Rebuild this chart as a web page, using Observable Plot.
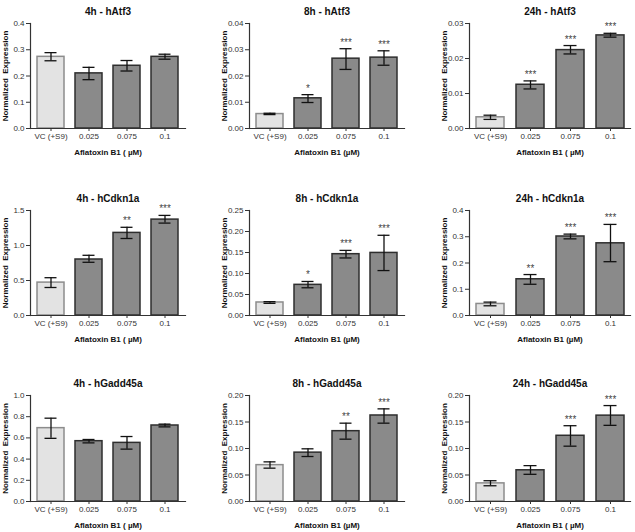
<!DOCTYPE html>
<html><head><meta charset="utf-8">
<script src="https://cdn.jsdelivr.net/npm/d3@7"></script>
<script src="https://cdn.jsdelivr.net/npm/@observablehq/plot@0.6"></script>
<style>
body{margin:0;background:#fff;}
#wrap{position:relative;width:635px;height:532px;overflow:hidden;background:#fff}
#wrap svg{position:absolute;background:transparent}
</style></head><body><div id="wrap"></div>
<script>
// ---- data ----
const doses = ["VC (+S9)", "0.025", "0.075", "0.1"];

const atf3_4h_mean  = [0.273, 0.210, 0.239, 0.273];
const atf3_4h_lo    = [0.258, 0.186, 0.219, 0.264];
const atf3_4h_hi    = [0.289, 0.233, 0.259, 0.283];
const atf3_4h_sig   = ["", "", "", ""];
const atf3_4h_ticks = [0, 0.1, 0.2, 0.3, 0.4];

const atf3_8h_mean  = [0.0055, 0.0115, 0.0266, 0.0270];
const atf3_8h_lo    = [0.0053, 0.0099, 0.0225, 0.0241];
const atf3_8h_hi    = [0.0058, 0.0129, 0.0304, 0.0296];
const atf3_8h_sig   = ["", "*", "***", "***"];
const atf3_8h_ticks = [0, 0.01, 0.02, 0.03, 0.04];

const atf3_24h_mean  = [0.0032, 0.0125, 0.0224, 0.0266];
const atf3_24h_lo    = [0.0026, 0.0113, 0.0213, 0.0261];
const atf3_24h_hi    = [0.0038, 0.0136, 0.0237, 0.0272];
const atf3_24h_sig   = ["", "***", "***", "***"];
const atf3_24h_ticks = [0, 0.01, 0.02, 0.03];

const cdkn1a_4h_mean  = [0.47, 0.80, 1.18, 1.37];
const cdkn1a_4h_lo    = [0.40, 0.76, 1.10, 1.32];
const cdkn1a_4h_hi    = [0.54, 0.86, 1.26, 1.43];
const cdkn1a_4h_sig   = ["", "", "**", "***"];
const cdkn1a_4h_ticks = [0, 0.5, 1.0, 1.5];

const cdkn1a_8h_mean  = [0.031, 0.073, 0.146, 0.149];
const cdkn1a_8h_lo    = [0.029, 0.066, 0.137, 0.107];
const cdkn1a_8h_hi    = [0.033, 0.081, 0.155, 0.191];
const cdkn1a_8h_sig   = ["", "*", "***", "***"];
const cdkn1a_8h_ticks = [0, 0.05, 0.10, 0.15, 0.20, 0.25];

const cdkn1a_24h_mean  = [0.044, 0.138, 0.301, 0.275];
const cdkn1a_24h_lo    = [0.037, 0.119, 0.292, 0.205];
const cdkn1a_24h_hi    = [0.051, 0.156, 0.310, 0.347];
const cdkn1a_24h_sig   = ["", "**", "***", "***"];
const cdkn1a_24h_ticks = [0, 0.1, 0.2, 0.3, 0.4];

const gadd45a_4h_mean  = [0.692, 0.569, 0.553, 0.717];
const gadd45a_4h_lo    = [0.596, 0.553, 0.494, 0.704];
const gadd45a_4h_hi    = [0.786, 0.585, 0.613, 0.730];
const gadd45a_4h_sig   = ["", "", "", ""];
const gadd45a_4h_ticks = [0, 0.2, 0.4, 0.6, 0.8, 1.0];

const gadd45a_8h_mean  = [0.0686, 0.0922, 0.1327, 0.1623];
const gadd45a_8h_lo    = [0.0629, 0.0849, 0.1176, 0.1478];
const gadd45a_8h_hi    = [0.0748, 0.0994, 0.1478, 0.1748];
const gadd45a_8h_sig   = ["", "", "**", "***"];
const gadd45a_8h_ticks = [0, 0.05, 0.10, 0.15, 0.20];

const gadd45a_24h_mean  = [0.0342, 0.0589, 0.1240, 0.1620];
const gadd45a_24h_lo    = [0.0297, 0.0513, 0.1044, 0.1437];
const gadd45a_24h_hi    = [0.0392, 0.0677, 0.1430, 0.1810];
const gadd45a_24h_sig   = ["", "", "***", "***"];
const gadd45a_24h_ticks = [0, 0.05, 0.10, 0.15, 0.20];

const panelTitles = [
  "4h - hAtf3", "8h - hAtf3", "24h - hAtf3",
  "4h - hCdkn1a", "8h - hCdkn1a", "24h - hCdkn1a",
  "4h - hGadd45a", "8h - hGadd45a", "24h - hGadd45a"
];
const xTitles = [
  "Aflatoxin B1 ( µM)", "Aflatoxin B1 (µM)", "Aflatoxin B1 ( µM)",
  "Aflatoxin B1 ( µM)", "Aflatoxin B1 (µM)", "Aflatoxin B1 (µM)",
  "Aflatoxin B1 ( µM)", "Aflatoxin B1 (µM)", "Aflatoxin B1 ( µM)"
];
const yTitle = "Normalized  Expression";

const panels = [
  {mean: atf3_4h_mean, lo: atf3_4h_lo, hi: atf3_4h_hi, sig: atf3_4h_sig, ticks: atf3_4h_ticks, fmt: ".1f"},
  {mean: atf3_8h_mean, lo: atf3_8h_lo, hi: atf3_8h_hi, sig: atf3_8h_sig, ticks: atf3_8h_ticks, fmt: ".2f"},
  {mean: atf3_24h_mean, lo: atf3_24h_lo, hi: atf3_24h_hi, sig: atf3_24h_sig, ticks: atf3_24h_ticks, fmt: ".2f"},
  {mean: cdkn1a_4h_mean, lo: cdkn1a_4h_lo, hi: cdkn1a_4h_hi, sig: cdkn1a_4h_sig, ticks: cdkn1a_4h_ticks, fmt: ".1f"},
  {mean: cdkn1a_8h_mean, lo: cdkn1a_8h_lo, hi: cdkn1a_8h_hi, sig: cdkn1a_8h_sig, ticks: cdkn1a_8h_ticks, fmt: ".2f"},
  {mean: cdkn1a_24h_mean, lo: cdkn1a_24h_lo, hi: cdkn1a_24h_hi, sig: cdkn1a_24h_sig, ticks: cdkn1a_24h_ticks, fmt: ".1f"},
  {mean: gadd45a_4h_mean, lo: gadd45a_4h_lo, hi: gadd45a_4h_hi, sig: gadd45a_4h_sig, ticks: gadd45a_4h_ticks, fmt: ".1f"},
  {mean: gadd45a_8h_mean, lo: gadd45a_8h_lo, hi: gadd45a_8h_hi, sig: gadd45a_8h_sig, ticks: gadd45a_8h_ticks, fmt: ".2f"},
  {mean: gadd45a_24h_mean, lo: gadd45a_24h_lo, hi: gadd45a_24h_hi, sig: gadd45a_24h_sig, ticks: gadd45a_24h_ticks, fmt: ".2f"}
];

// ---- layout ----
const colLeft = [0, 210, 420], colWidth = [205, 205, 215];
const colML = [30, 39, 49], colMR = [20, 11, 5];
const rowTop = [0, 176, 352], rowHeight = [176, 176, 180];
const rowMT = [23, 34, 43], rowMB = [48, 37, 31];

const FONT = "'Liberation Sans', Arial, Helvetica, sans-serif";
const wrap = document.getElementById("wrap");

panels.forEach((p, k) => {
  const r = Math.floor(k / 3), c = k % 3;
  const rows = doses.map((d, i) => ({dose: d, mean: p.mean[i], lo: p.lo[i], hi: p.hi[i], sig: p.sig[i]}));
  const ymax = p.ticks[p.ticks.length - 1];
  const chart = Plot.plot({
    width: colWidth[c], height: rowHeight[r],
    marginLeft: colML[c], marginRight: colMR[c], marginTop: rowMT[r], marginBottom: rowMB[r],
    style: {fontFamily: FONT, fontSize: "8px", color: "#333", background: "transparent", overflow: "visible"},
    x: {domain: doses, paddingInner: 0.3, paddingOuter: 0.15},
    y: {domain: [0, ymax]},
    marks: [
      Plot.barY(rows.slice(0, 1), {x: "dose", y: "mean", fill: "#e3e3e3", stroke: "#8c8c8c", strokeWidth: 1.5}),
      Plot.barY(rows.slice(1), {x: "dose", y: "mean", fill: "#8a8a8a", stroke: "#2e2e2e", strokeWidth: 1.5}),
      Plot.ruleX(rows, {x: "dose", y1: "lo", y2: "hi", stroke: "#111", strokeWidth: 1.3}),
      Plot.tickY(rows, {x: "dose", y: "lo", insetLeft: 7.5, insetRight: 7.5, stroke: "#111", strokeWidth: 1.3}),
      Plot.tickY(rows, {x: "dose", y: "hi", insetLeft: 7.5, insetRight: 7.5, stroke: "#111", strokeWidth: 1.3}),
      Plot.text(rows.filter(d => d.sig), {x: "dose", y: "hi", text: "sig", dy: -3, lineAnchor: "bottom", fontSize: 10, fill: "#3a3a3a", fillOpacity: 0.99}),
      Plot.frame({anchor: "left", stroke: "#333", strokeWidth: 1.2}),
      Plot.frame({anchor: "bottom", stroke: "#333", strokeWidth: 1.2}),
      Plot.axisY({ticks: p.ticks, tickFormat: d3.format(p.fmt), tickSize: 4, tickPadding: 2, label: null, stroke: "#333", fill: "#333"}),
      Plot.axisX({tickSize: 3, tickPadding: 2, label: null, stroke: "#333", fill: "#333"}),
      Plot.text([panelTitles[k]], {frameAnchor: "top", dy: -16, fontWeight: "bold", fontSize: 10, fill: "#111"}),
      Plot.text([xTitles[k]], {frameAnchor: "bottom", dy: 26, fontWeight: "bold", fontSize: 8, fill: "#111"}),
      Plot.text([yTitle], {frameAnchor: "left", textAnchor: "middle", dx: -25, rotate: -90, fontWeight: "bold", fontSize: 8, fill: "#111"})
    ]
  });
  chart.style.left = colLeft[c] + "px";
  chart.style.top = rowTop[r] + "px";
  wrap.appendChild(chart);
});
</script>
</body></html>
